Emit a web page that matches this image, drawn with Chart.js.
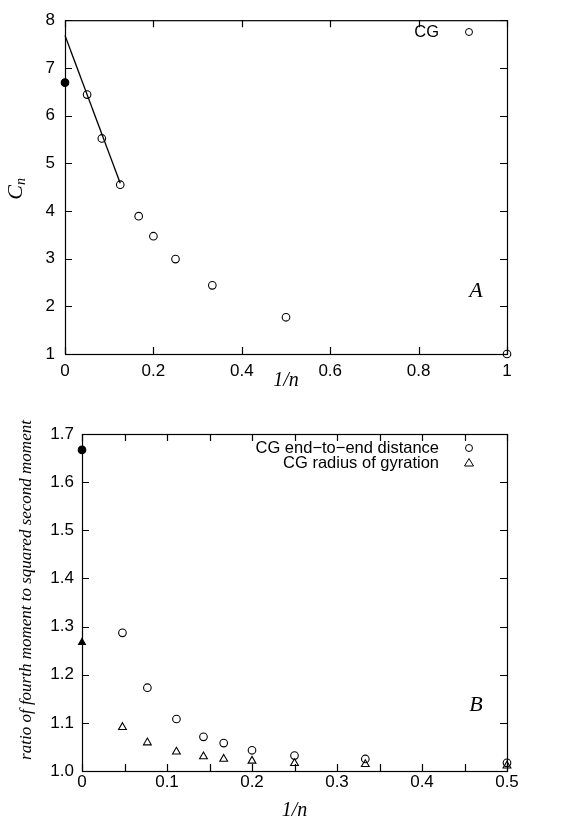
<!DOCTYPE html>
<html>
<head>
<meta charset="utf-8">
<script src="https://cdn.jsdelivr.net/npm/chart.js@4.4.1/dist/chart.umd.min.js"></script>
<style>
	body { margin: 0; background: #fff; }
	#wrapA { position: absolute; left: 0; top: 0; }
	#wrapB { position: absolute; left: 0; top: 400px; }
</style>
</head>
<body>
<div id="wrapA"><canvas id="chartA" width="563" height="400"></canvas></div>
<div id="wrapB"><canvas id="chartB" width="563" height="416"></canvas></div>
<script>
// Panel A: C_n against 1/n
const aInvN = [0.05, 0.0833, 0.125, 0.1667, 0.2, 0.25, 0.3333, 0.5, 1.0];
const aCn = [6.44, 5.52, 4.55, 3.89, 3.47, 2.99, 2.44, 1.77, 1.0];
const aLimitX = [0];
const aLimitY = [6.69];
const aFitX = [0, 0.125];
const aFitY = [7.68, 4.58];

// Panel B: ratio of fourth moment to squared second moment
const bInvN = [0.0476, 0.0769, 0.1111, 0.1429, 0.1667, 0.2, 0.25, 0.3333, 0.5];
const bEndToEnd = [1.287, 1.173, 1.108, 1.071, 1.058, 1.043, 1.032, 1.025, 1.017];
const bGyration = [1.091, 1.059, 1.040, 1.030, 1.025, 1.021, 1.016, 1.014, 1.011];
const bLimitX = [0, 0];
const bLimitY = [1.667, 1.267];

const sans = "'Liberation Sans', Arial, sans-serif";
const serif = "'Liberation Serif', 'Times New Roman', serif";

const pts = (xs, ys) => xs.map((x, i) => ({x: x, y: ys[i]}));

// frame + inward ticks on all four sides, like the original gnuplot figure
const frameTicks = {
	id: 'frameTicks',
	afterDraw(chart) {
		const {ctx, chartArea: a, scales} = chart;
		ctx.save();
		ctx.strokeStyle = '#000';
		ctx.lineWidth = 1.2;
		ctx.strokeRect(a.left + 0.5, a.top + 0.5, a.right - a.left, a.bottom - a.top);
		const len = 7;
		ctx.beginPath();
		scales.x.ticks.forEach(t => {
			const px = Math.round(scales.x.getPixelForValue(t.value)) + 0.5;
			ctx.moveTo(px, a.bottom); ctx.lineTo(px, a.bottom - len);
			ctx.moveTo(px, a.top); ctx.lineTo(px, a.top + len);
		});
		scales.y.ticks.forEach(t => {
			const py = Math.round(scales.y.getPixelForValue(t.value)) + 0.5;
			ctx.moveTo(a.left, py); ctx.lineTo(a.left + len, py);
			ctx.moveTo(a.right, py); ctx.lineTo(a.right - len, py);
		});
		ctx.stroke();
		ctx.restore();
	}
};

// titles, panel letters and key drawn inside the canvas
const annotations = {
	id: 'annotations',
	afterDraw(chart, args, opts) {
		const {ctx, chartArea: a} = chart;
		ctx.save();
		ctx.fillStyle = '#000';
		ctx.strokeStyle = '#000';
		ctx.textBaseline = 'middle';

		// x title
		ctx.font = 'italic 20px ' + serif;
		ctx.textAlign = 'center';
		ctx.fillText('1/n', (a.left + a.right) / 2, opts.xTitleY);

		// y title
		ctx.save();
		ctx.translate(opts.yTitleX, opts.yTitleY);
		ctx.rotate(-Math.PI / 2);
		if (opts.subscript) {
			ctx.font = 'italic 22px ' + serif;
			ctx.textAlign = 'right';
			ctx.fillText('C', 2, 0);
			ctx.font = 'italic 14px ' + serif;
			ctx.textAlign = 'left';
			ctx.fillText('n', 2, 5);
		} else {
			ctx.font = 'italic 17px ' + serif;
			ctx.textAlign = 'center';
			ctx.fillText(opts.yTitle, 0, 0);
		}
		ctx.restore();

		// panel letter
		ctx.font = 'italic 22px ' + serif;
		ctx.textAlign = 'center';
		ctx.fillText(opts.letter, opts.letterX, opts.letterY);

		// key
		ctx.font = '16.5px ' + sans;
		ctx.textAlign = 'right';
		ctx.lineWidth = 1;
		opts.key.forEach(k => {
			ctx.fillText(k.text, 439, k.y);
			ctx.beginPath();
			if (k.style === 'triangle') {
				ctx.moveTo(469, k.y - 4.5);
				ctx.lineTo(473.5, k.y + 3);
				ctx.lineTo(464.5, k.y + 3);
				ctx.closePath();
			} else {
				ctx.arc(469, k.y, 3.5, 0, Math.PI * 2);
			}
			ctx.stroke();
		});
		ctx.restore();
	}
};

const baseScales = (xOpts, yOpts) => ({
	x: Object.assign({
		type: 'linear',
		grid: {display: false, drawTicks: false},
		border: {display: false},
		afterFit: s => { s.height = xOpts.height; },
	}, xOpts.cfg),
	y: Object.assign({
		type: 'linear',
		grid: {display: false, drawTicks: false},
		border: {display: false},
		afterFit: s => { s.width = yOpts.width; },
	}, yOpts.cfg),
});

const openPoint = {
	showLine: false,
	pointStyle: 'circle',
	pointRadius: 3.8,
	pointBorderWidth: 1.1,
	pointBorderColor: '#000',
	pointBackgroundColor: 'rgba(0,0,0,0)',
	clip: false,
};

const tickFont = {family: sans, size: 17};

new Chart(document.getElementById('chartA'), {
	type: 'scatter',
	data: {
		datasets: [
			Object.assign({}, openPoint, {label: 'CG', data: pts(aInvN, aCn)}),
			Object.assign({}, openPoint, {label: 'limit', data: pts(aLimitX, aLimitY), pointBackgroundColor: '#000'}),
			{label: 'fit', data: pts(aFitX, aFitY), showLine: true, borderColor: '#000', borderWidth: 1.3, pointRadius: 0, clip: false},
		]
	},
	options: {
		responsive: false,
		animation: false,
		devicePixelRatio: 1,
		layout: {padding: {left: 0, top: 16, right: 56, bottom: 0}},
		plugins: {
			legend: {display: false},
			tooltip: {enabled: false},
			annotations: {
				xTitleY: 381, yTitleX: 16, yTitleY: 187, subscript: true,
				letter: 'A', letterX: 476, letterY: 291,
				key: [{text: 'CG', y: 32, style: 'circle'}],
			},
		},
		scales: baseScales(
			{height: 46, cfg: {min: 0, max: 1, ticks: {stepSize: 0.2, autoSkip: false, maxRotation: 0, padding: 7, color: '#000', font: tickFont,
				callback: v => (Math.abs(v) < 1e-9 ? '0' : Math.abs(v - 1) < 1e-9 ? '1' : v.toFixed(1))}}},
			{width: 65, cfg: {min: 1, max: 8, ticks: {stepSize: 1, padding: 10, color: '#000', font: tickFont}}}
		),
	},
	plugins: [frameTicks, annotations],
});

new Chart(document.getElementById('chartB'), {
	type: 'scatter',
	data: {
		datasets: [
			Object.assign({}, openPoint, {label: 'CG end-to-end distance', data: pts(bInvN, bEndToEnd)}),
			Object.assign({}, openPoint, {label: 'CG radius of gyration', data: pts(bInvN, bGyration), pointStyle: 'triangle', pointRadius: 4.5}),
			Object.assign({}, openPoint, {label: 'limit', data: pts(bLimitX, bLimitY), pointStyle: ['circle', 'triangle'], pointRadius: [3.8, 4], pointBackgroundColor: '#000'}),
		]
	},
	options: {
		responsive: false,
		animation: false,
		devicePixelRatio: 1,
		layout: {padding: {left: 0, top: 34, right: 56, bottom: 0}},
		plugins: {
			legend: {display: false},
			tooltip: {enabled: false},
			annotations: {
				xTitleY: 411, yTitleX: 27, yTitleY: 190, subscript: false,
				yTitle: 'ratio of fourth moment to squared second moment',
				letter: 'B', letterX: 476, letterY: 305,
				key: [
					{text: 'CG end\u2212to\u2212end distance', y: 48, style: 'circle'},
					{text: 'CG radius of gyration', y: 63, style: 'triangle'},
				],
			},
		},
		scales: baseScales(
			{height: 45, cfg: {min: 0, max: 0.5, ticks: {stepSize: 0.05, autoSkip: false, maxRotation: 0, padding: 1, color: '#000', font: tickFont,
				callback: v => {
					const k = Math.round(v * 100);
					if (k % 10 !== 0) return '';
					return k === 0 ? '0' : (k / 100).toFixed(1);
				}}}},
			{width: 82, cfg: {min: 1, max: 1.7, ticks: {stepSize: 0.1, padding: 8, color: '#000', font: tickFont,
				callback: v => v.toFixed(1)}}}
		),
	},
	plugins: [frameTicks, annotations],
});
</script>
</body>
</html>
